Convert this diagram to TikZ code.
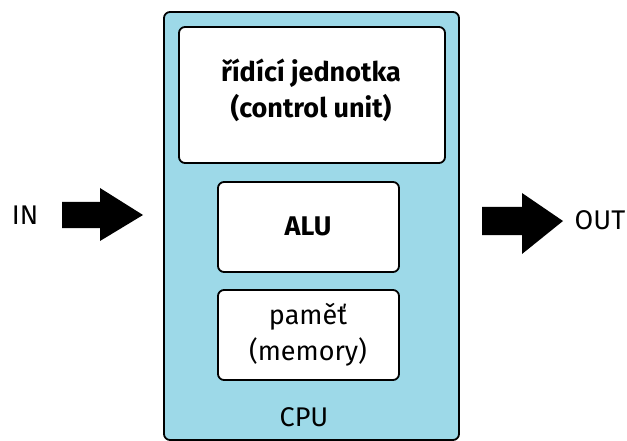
\documentclass[tikz,border=0pt]{standalone}
\usepackage{fontspec}
\setmainfont{Fira Sans}
\definecolor{cpublue}{RGB}{157,217,232}
\begin{document}
\begin{tikzpicture}[x=1pt,y=-1pt,
  box/.style={draw=black,line width=1.8pt,rounded corners=6pt},
  lbl/.style={font=\fontsize{27}{36}\selectfont,align=center,inner sep=0pt},
  blbl/.style={lbl,font=\fontsize{27}{36}\selectfont\bfseries}]
\useasboundingbox (0,0) rectangle (627,441);
\draw[box,fill=cpublue] (164,12) rectangle (459,440);
\draw[box,fill=white] (179,27) rectangle (445,163);
\draw[box,fill=white] (218,182) rectangle (399,272);
\draw[box,fill=white] (218,290) rectangle (399,380);
\node[blbl] (cu) at (311,90) {řídící jednotka\\(control unit)};
\node[blbl] (alu) at (308,226) {ALU};
\node[lbl] (mem) at (308,335) {paměť\\(memory)};
\node[lbl] (cpu) at (304,417) {CPU};
\node[lbl] (in) at (25,215) {IN};
\node[lbl] (out) at (600,220) {OUT};
\fill[black] (62,202) -- (100,202) -- (100,188) -- (143,215) -- (100,241) -- (100,228) -- (62,228) -- cycle;
\fill[black] (482,207) -- (522,207) -- (522,193) -- (563,221) -- (522,254) -- (522,235) -- (482,235) -- cycle;
\end{tikzpicture}
\end{document}
